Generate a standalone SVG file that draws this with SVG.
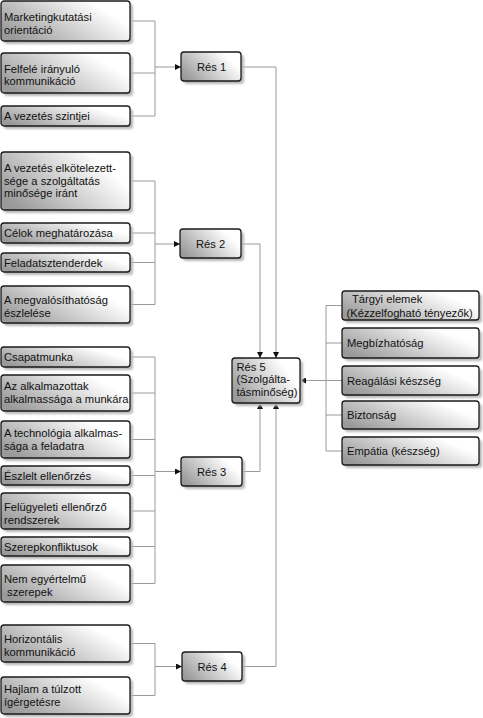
<svg xmlns="http://www.w3.org/2000/svg" width="483" height="718" viewBox="0 0 483 718">
<style>
.box{fill:url(#g);stroke:#1a1a1a;stroke-width:1.3}
.sh{fill:#b8b8b8;filter:url(#blur)}
.t{font-family:"Liberation Sans",Arial,sans-serif;font-size:11.2px;fill:#111}
.c{fill:none;stroke:#9a9a9a;stroke-width:1}
.a{fill:none;stroke:#9a9a9a;stroke-width:1;marker-end:url(#ah)}
</style>
<defs>
<linearGradient id="g" x1="0" y1="0.75" x2="1" y2="0.25">
<stop offset="0" stop-color="#999"/>
<stop offset="0.85" stop-color="#fff"/>
<stop offset="1" stop-color="#fff"/>
</linearGradient>
<filter id="blur" x="-10%" y="-10%" width="120%" height="120%"><feGaussianBlur stdDeviation="0.8"/></filter>
<marker id="ah" markerUnits="userSpaceOnUse" markerWidth="7" markerHeight="6" refX="6" refY="3" orient="auto">
<path d="M0,0 L6,3 L0,6 Z" fill="#111"/>
</marker>
</defs>

<g id="connectors">
<path class="c" d="M130,21 H155 M130,73 H155 M130,116 H155 M155,21 V116"/>
<path class="a" d="M155,67 H181"/>
<path class="a" d="M241,67 H276 V358"/>
<path class="c" d="M130,181 H155 M130,233 H155 M130,262.5 H155 M130,304.5 H155 M155,181 V304.5"/>
<path class="a" d="M155,244 H180"/>
<path class="a" d="M241,244 H260 V358"/>
<path class="c" d="M130,357 H155 M130,393 H155 M130,439.5 H155 M130,475.5 H155 M130,511 H155 M130,546.5 H155 M130,583.5 H155 M155,357 V583.5"/>
<path class="a" d="M155,471.5 H181"/>
<path class="a" d="M242,471.5 H260 V403"/>
<path class="c" d="M130,643.5 H155 M130,695.5 H155 M155,643.5 V695.5"/>
<path class="a" d="M155,666.5 H182"/>
<path class="a" d="M242,666.5 H276 V403"/>
<path class="c" d="M326,305.5 H342 M326,343 H342 M326,380.5 H342 M326,415 H342 M326,451 H342 M326,305.5 V451"/>
<path class="a" d="M326,380.5 H300"/>
</g>

<g id="n1"><rect class="sh" x="4" y="4" width="129" height="40" rx="3"/><rect class="box" x="1" y="1" width="129" height="40" rx="3"/><text class="t" x="4" y="20.5">Marketingkutatási</text><text class="t" x="4" y="33.5">orientáció</text></g>
<g id="n2"><rect class="sh" x="4" y="56" width="129" height="40" rx="3"/><rect class="box" x="1" y="53" width="129" height="40" rx="3"/><text class="t" x="4" y="72.5">Felfelé irányuló</text><text class="t" x="4" y="85">kommunikáció</text></g>
<g id="n3"><rect class="sh" x="4" y="109" width="129" height="20" rx="3"/><rect class="box" x="1" y="106" width="129" height="20" rx="3"/><text class="t" x="4" y="120">A vezetés szintjei</text></g>
<g id="res1"><rect class="sh" x="184" y="55" width="60" height="29" rx="3"/><rect class="box" x="181" y="52" width="60" height="29" rx="3"/><text class="t" x="211.5" y="70.5" text-anchor="middle">Rés 1</text></g>

<g id="n4"><rect class="sh" x="4" y="155" width="129" height="58" rx="3"/><rect class="box" x="1" y="152" width="129" height="58" rx="3"/><text class="t" x="4" y="172">A vezetés elkötelezett-</text><text class="t" x="4" y="184.5">sége a szolgáltatás</text><text class="t" x="4" y="197">minősége iránt</text></g>
<g id="n5"><rect class="sh" x="4" y="226" width="129" height="20" rx="3"/><rect class="box" x="1" y="223" width="129" height="20" rx="3"/><text class="t" x="4" y="237">Célok meghatározása</text></g>
<g id="n6"><rect class="sh" x="4" y="256" width="129" height="19" rx="3"/><rect class="box" x="1" y="253" width="129" height="19" rx="3"/><text class="t" x="4" y="266.5">Feladatsztenderdek</text></g>
<g id="n7"><rect class="sh" x="4" y="289" width="129" height="37" rx="3"/><rect class="box" x="1" y="286" width="129" height="37" rx="3"/><text class="t" x="4" y="303.5">A megvalósíthatóság</text><text class="t" x="4" y="316.5">észlelése</text></g>
<g id="res2"><rect class="sh" x="183" y="232" width="61" height="29" rx="3"/><rect class="box" x="180" y="229" width="61" height="29" rx="3"/><text class="t" x="210.5" y="247.5" text-anchor="middle">Rés 2</text></g>

<g id="n8"><rect class="sh" x="4" y="350" width="129" height="20" rx="3"/><rect class="box" x="1" y="347" width="129" height="20" rx="3"/><text class="t" x="4" y="361">Csapatmunka</text></g>
<g id="n9"><rect class="sh" x="4" y="378" width="129" height="36" rx="3"/><rect class="box" x="1" y="375" width="129" height="36" rx="3"/><text class="t" x="4" y="389.5">Az alkalmazottak</text><text class="t" x="4" y="403">alkalmassága a munkára</text></g>
<g id="n10"><rect class="sh" x="4" y="424" width="129" height="37" rx="3"/><rect class="box" x="1" y="421" width="129" height="37" rx="3"/><text class="t" x="4" y="436.5">A technológia alkalmas-</text><text class="t" x="4" y="450">sága a feladatra</text></g>
<g id="n11"><rect class="sh" x="4" y="469" width="129" height="19" rx="3"/><rect class="box" x="1" y="466" width="129" height="19" rx="3"/><text class="t" x="4" y="479.5">Észlelt ellenőrzés</text></g>
<g id="n12"><rect class="sh" x="4" y="496" width="129" height="36" rx="3"/><rect class="box" x="1" y="493" width="129" height="36" rx="3"/><text class="t" x="4" y="510.5">Felügyeleti ellenőrző</text><text class="t" x="4" y="524">rendszerek</text></g>
<g id="n13"><rect class="sh" x="4" y="540" width="129" height="19" rx="3"/><rect class="box" x="1" y="537" width="129" height="19" rx="3"/><text class="t" x="4" y="550.5">Szerepkonfliktusok</text></g>
<g id="n14"><rect class="sh" x="4" y="568" width="129" height="37" rx="3"/><rect class="box" x="1" y="565" width="129" height="37" rx="3"/><text class="t" x="4" y="583">Nem egyértelmű</text><text class="t" x="4" y="596" xml:space="preserve"> szerepek</text></g>
<g id="res3"><rect class="sh" x="184" y="460" width="61" height="29" rx="3"/><rect class="box" x="181" y="457" width="61" height="29" rx="3"/><text class="t" x="211.5" y="475.5" text-anchor="middle">Rés 3</text></g>

<g id="n15"><rect class="sh" x="4" y="628" width="129" height="37" rx="3"/><rect class="box" x="1" y="625" width="129" height="37" rx="3"/><text class="t" x="4" y="643">Horizontális</text><text class="t" x="4" y="656">kommunikáció</text></g>
<g id="n16"><rect class="sh" x="4" y="680" width="129" height="37" rx="3"/><rect class="box" x="1" y="677" width="129" height="37" rx="3"/><text class="t" x="4" y="693">Hajlam a túlzott</text><text class="t" x="4" y="705.5">ígérgetésre</text></g>
<g id="res4"><rect class="sh" x="185" y="655" width="60" height="29" rx="3"/><rect class="box" x="182" y="652" width="60" height="29" rx="3"/><text class="t" x="212" y="670.5" text-anchor="middle">Rés 4</text></g>

<g id="res5"><rect class="sh" x="235" y="361" width="68" height="45" rx="3"/><rect class="box" x="232" y="358" width="68" height="45" rx="3"/><text class="t" x="236.5" y="370.5">Rés 5</text><text class="t" x="236.5" y="383">(Szolgálta-</text><text class="t" x="236.5" y="395.5">tásminőség)</text></g>

<g id="r1"><rect class="sh" x="345" y="294" width="137" height="29" rx="3"/><rect class="box" x="342" y="291" width="137" height="29" rx="3"/><text class="t" x="352" y="302.5">Tárgyi elemek</text><text class="t" x="346.5" y="317">(Kézzelfogható tényezők)</text></g>
<g id="r2"><rect class="sh" x="345" y="331" width="137" height="30" rx="3"/><rect class="box" x="342" y="328" width="137" height="30" rx="3"/><text class="t" x="347" y="347">Megbízhatóság</text></g>
<g id="r3"><rect class="sh" x="345" y="369" width="137" height="29" rx="3"/><rect class="box" x="342" y="366" width="137" height="29" rx="3"/><text class="t" x="347" y="384.5">Reagálási készség</text></g>
<g id="r4"><rect class="sh" x="345" y="404" width="137" height="28" rx="3"/><rect class="box" x="342" y="401" width="137" height="28" rx="3"/><text class="t" x="347" y="419">Biztonság</text></g>
<g id="r5"><rect class="sh" x="345" y="440" width="137" height="28" rx="3"/><rect class="box" x="342" y="437" width="137" height="28" rx="3"/><text class="t" x="347" y="455">Empátia (készség)</text></g>
</svg>
